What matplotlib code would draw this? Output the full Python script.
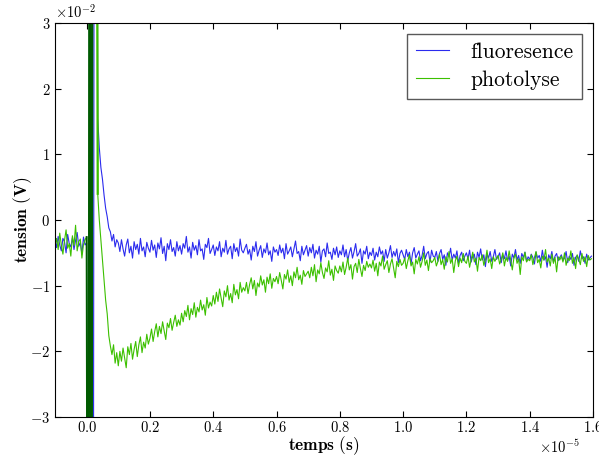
import numpy as np
import matplotlib
matplotlib.use("Agg")
import matplotlib.pyplot as plt
from matplotlib.ticker import MultipleLocator

plt.rcParams.update({
    "font.family": "serif",
    "font.serif": ["cmr10"],
    "mathtext.fontset": "cm",
    "axes.formatter.use_mathtext": True,
    "axes.unicode_minus": False,
})

# oscilloscope samples, one every 0.05 us starting at -1 us
t0 = -0.1e-5
dt = 0.005e-5

# signals in units of 1e-2 V, one row = 0.1e-5 s
fluo = [
    -0.30, -0.42, -0.25, -0.38, -0.47, -0.28, -0.33, -0.50, -0.22, -0.36, -0.41, -0.27, -0.45, -0.31, -0.19, -0.40, -0.34, -0.52, -0.26, -0.38,
    -0.35, -12, 12, -12, -12, 12, 12, 1.55, 1.10, 0.80, 0.62, 0.38, 0.18, 0.05, -0.12, -0.18, -0.32, -0.22, -0.41, -0.30,
    -0.35, -0.48, -0.30, -0.44, -0.55, -0.38, -0.29, -0.50, -0.40, -0.58, -0.33, -0.45, -0.37, -0.52, -0.28, -0.47, -0.41, -0.56, -0.34, -0.43,
    -0.49, -0.31, -0.46, -0.38, -0.57, -0.35, -0.44, -0.27, -0.51, -0.40, -0.62, -0.36, -0.45, -0.30, -0.48, -0.42, -0.55, -0.33, -0.47, -0.39,
    -0.52, -0.36, -0.43, -0.25, -0.49, -0.41, -0.58, -0.34, -0.46, -0.39, -0.53, -0.30, -0.47, -0.44, -0.60, -0.37, -0.42, -0.28, -0.51, -0.45,
    -0.38, -0.54, -0.41, -0.47, -0.33, -0.56, -0.43, -0.49, -0.31, -0.52, -0.44, -0.40, -0.59, -0.36, -0.48, -0.42, -0.55, -0.29, -0.46, -0.50,
    -0.43, -0.37, -0.52, -0.45, -0.61, -0.40, -0.48, -0.33, -0.55, -0.46, -0.39, -0.57, -0.44, -0.50, -0.35, -0.53, -0.47, -0.63, -0.41, -0.49,
    -0.45, -0.54, -0.38, -0.50, -0.43, -0.59, -0.36, -0.52, -0.47, -0.41, -0.56, -0.44, -0.32, -0.51, -0.48, -0.62, -0.40, -0.53, -0.46, -0.39,
    -0.55, -0.42, -0.50, -0.37, -0.58, -0.46, -0.52, -0.40, -0.64, -0.47, -0.44, -0.56, -0.35, -0.51, -0.49, -0.60, -0.43, -0.53, -0.41, -0.57,
    -0.47, -0.53, -0.38, -0.56, -0.45, -0.62, -0.50, -0.42, -0.58, -0.48, -0.36, -0.55, -0.51, -0.44, -0.66, -0.47, -0.52, -0.40, -0.59, -0.49,
    -0.54, -0.43, -0.61, -0.49, -0.56, -0.41, -0.52, -0.47, -0.63, -0.45, -0.58, -0.50, -0.39, -0.57, -0.48, -0.55, -0.44, -0.65, -0.51, -0.46,
    -0.53, -0.60, -0.45, -0.56, -0.49, -0.67, -0.50, -0.42, -0.58, -0.52, -0.47, -0.62, -0.54, -0.40, -0.59, -0.51, -0.48, -0.64, -0.46, -0.55,
    -0.57, -0.48, -0.63, -0.51, -0.45, -0.60, -0.53, -0.69, -0.50, -0.56, -0.43, -0.61, -0.52, -0.58, -0.47, -0.66, -0.54, -0.49, -0.62, -0.55,
    -0.50, -0.59, -0.46, -0.64, -0.55, -0.52, -0.68, -0.49, -0.57, -0.44, -0.61, -0.53, -0.71, -0.51, -0.58, -0.48, -0.63, -0.56, -0.45, -0.60,
    -0.56, -0.50, -0.65, -0.53, -0.59, -0.47, -0.62, -0.55, -0.70, -0.52, -0.58, -0.45, -0.61, -0.54, -0.66, -0.51, -0.57, -0.49, -0.63, -0.56,
    -0.60, -0.52, -0.57, -0.67, -0.49, -0.58, -0.54, -0.63, -0.46, -0.61, -0.56, -0.72, -0.53, -0.59, -0.48, -0.64, -0.55, -0.51, -0.62, -0.57,
    -0.53, -0.62, -0.58, -0.48, -0.65, -0.55, -0.60, -0.51, -0.69, -0.57, -0.54, -0.63, -0.47, -0.59, -0.56, -0.66, -0.52, -0.61, -0.58, -0.55,
]

photo = [
    -0.40, -0.28, -0.45, -0.20, -0.38, -0.52, -0.31, -0.15, -0.43, -0.36, -0.55, -0.24, -0.39, -0.08, -0.47, -0.33, -0.29, -0.58, -0.37, -0.30,
    -0.26, -12, 12, -12, 12, 10, 12, 0.40, 0.00, -0.30, -0.62, -0.88, -1.22, -1.43, -1.76, -1.92, -2.05, -1.90, -2.18, -2.02,
    -2.22, -2.00, -2.15, -1.95, -2.10, -2.25, -1.93, -2.05, -1.88, -2.12, -1.97, -1.85, -2.08, -1.90, -1.78, -2.02, -1.86, -1.95, -1.74, -1.89,
    -1.80, -1.66, -1.85, -1.70, -1.58, -1.78, -1.62, -1.73, -1.55, -1.69, -1.82, -1.57, -1.64, -1.50, -1.68, -1.56, -1.45, -1.62, -1.52, -1.60,
    -1.42, -1.55, -1.38, -1.47, -1.30, -1.52, -1.35, -1.44, -1.26, -1.48, -1.33, -1.40, -1.22, -1.37, -1.29, -1.45, -1.18, -1.34, -1.25, -1.31,
    -1.15, -1.28, -1.10, -1.24, -1.05, -1.19, -1.32, -1.08, -1.17, -1.00, -1.22, -1.12, -1.26, -0.98, -1.14, -1.06, -1.20, -0.95, -1.10, -1.03,
    -1.08, -0.95, -1.12, -0.98, -0.88, -1.05, -0.92, -1.15, -0.96, -1.02, -0.85, -0.99, -0.91, -1.10, -0.87, -0.97, -0.82, -1.04, -0.89, -0.94,
    -0.86, -0.97, -0.80, -0.92, -1.05, -0.83, -0.90, -0.76, -0.95, -0.85, -1.00, -0.79, -0.88, -0.72, -0.91, -0.84, -0.98, -0.77, -0.86, -0.82,
    -0.78, -0.88, -0.72, -0.85, -0.68, -0.94, -0.76, -0.82, -0.65, -0.80, -0.89, -0.73, -0.79, -0.62, -0.84, -0.75, -0.92, -0.70, -0.77, -0.81,
    -0.70, -0.79, -0.64, -0.83, -0.72, -0.58, -0.76, -0.68, -0.90, -0.71, -0.66, -0.80, -0.60, -0.74, -0.86, -0.69, -0.77, -0.63, -0.72, -0.67,
    -0.73, -0.61, -0.78, -0.66, -0.85, -0.64, -0.70, -0.55, -0.75, -0.68, -0.62, -0.80, -0.67, -0.59, -0.74, -0.88, -0.63, -0.71, -0.60, -0.69,
    -0.66, -0.58, -0.74, -0.62, -0.53, -0.70, -0.64, -0.82, -0.60, -0.67, -0.56, -0.72, -0.63, -0.50, -0.69, -0.61, -0.77, -0.59, -0.65, -0.62,
    -0.57, -0.70, -0.63, -0.52, -0.68, -0.60, -0.75, -0.56, -0.64, -0.48, -0.66, -0.59, -0.80, -0.62, -0.55, -0.71, -0.58, -0.65, -0.51, -0.63,
    -0.66, -0.55, -0.72, -0.60, -0.49, -0.64, -0.58, -0.78, -0.57, -0.62, -0.53, -0.69, -0.61, -0.46, -0.65, -0.59, -0.74, -0.56, -0.63, -0.58,
    -0.54, -0.67, -0.60, -0.50, -0.70, -0.57, -0.63, -0.47, -0.61, -0.76, -0.58, -0.52, -0.66, -0.59, -0.83, -0.56, -0.62, -0.49, -0.64, -0.60,
    -0.62, -0.53, -0.68, -0.57, -0.48, -0.65, -0.60, -0.73, -0.55, -0.61, -0.45, -0.64, -0.58, -0.70, -0.52, -0.66, -0.57, -0.79, -0.56, -0.61,
    -0.55, -0.64, -0.50, -0.69, -0.58, -0.62, -0.47, -0.66, -0.57, -0.74, -0.53, -0.60, -0.68, -0.51, -0.63, -0.56, -0.71, -0.54, -0.61, -0.59,
]

fluo = np.array(fluo) * 1e-2
photo = np.array(photo) * 1e-2
t = t0 + np.arange(len(fluo)) * dt

fig = plt.figure(figsize=(5.99, 4.57), dpi=100)
ax = fig.add_axes([55 / 599, 40 / 457, 538 / 599, 394 / 457])

ax.plot(t, fluo, color="#2b2bee", lw=0.8, label="fluoresence")
ax.plot(t, photo, color="#3cc000", lw=0.8, label="photolyse")
# trigger spike shows up darker on the scope trace
spike = slice(20, 25)
ax.plot(t[spike], photo[spike], color="#005a00", lw=1.4)
# decay edge just after the trigger, thicker on the trace
edge = slice(26, 28)
ax.plot(t[edge], photo[edge], color="#3cc000", lw=1.6)

ax.set_xlim(-0.1e-5, 1.6e-5)
ax.set_ylim(-0.03, 0.03)
ax.xaxis.set_major_locator(MultipleLocator(0.2e-5))
ax.yaxis.set_major_locator(MultipleLocator(0.01))
ax.ticklabel_format(style="sci", scilimits=(0, 0))
ax.tick_params(direction="in", top=True, right=True, length=4, labelsize=10.5)
ax.tick_params(axis="x", pad=2)
ax.xaxis.get_offset_text().set_fontsize(10.5)
ax.yaxis.get_offset_text().set_fontsize(10.5)
ax.xaxis.get_offset_text().set_x(0.975)

ax.set_xlabel(r"$\mathbf{temps\ (s)}$", fontsize=12.5, labelpad=0)
ax.set_ylabel(r"$\mathbf{tension\ (V)}$", fontsize=12.5, labelpad=-2.5)

leg = ax.legend(loc="upper right", fontsize=15.5, handlelength=1.55, handletextpad=1.0,
                labelspacing=0.4, borderaxespad=0.5, fancybox=False, framealpha=1)
leg.get_frame().set_edgecolor("0.35")

fig.savefig("out.png", dpi=100)
